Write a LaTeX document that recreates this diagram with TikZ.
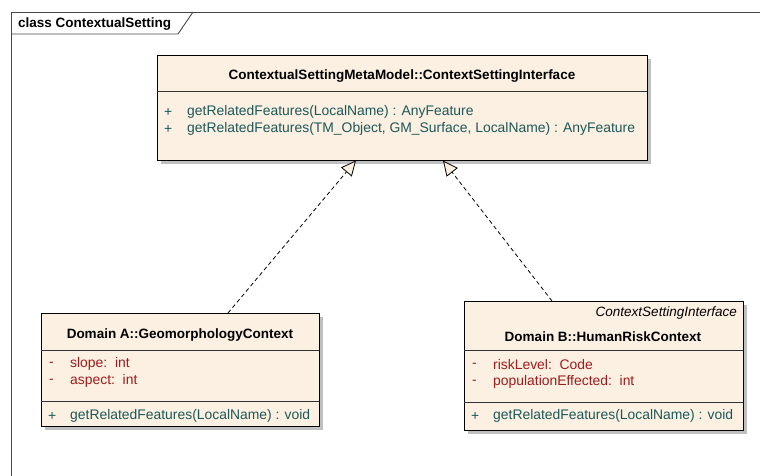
\documentclass[tikz,border=0pt]{standalone}
\usepackage{fontspec}
\setmainfont{Liberation Sans}
\usetikzlibrary{arrows.meta}
\definecolor{beige}{RGB}{251,240,225}
\definecolor{methodc}{RGB}{28,88,88}
\definecolor{attrc}{RGB}{158,28,28}
\definecolor{framec}{RGB}{70,70,70}
\definecolor{shadowc}{RGB}{192,192,192}
\tikzset{
  umlbox/.style={draw=black, fill=beige, line width=0.9pt, anchor=north west, inner sep=0pt},
  shadowbox/.style={fill=shadowc},
  divider/.style={draw=black!80, line width=0.8pt},
  titletxt/.style={font=\bfseries\fontsize{13.5}{15}\selectfont, inner sep=0pt},
  stereotxt/.style={font=\itshape\fontsize{13.5}{15}\selectfont, inner sep=0pt, anchor=east},
  methtxt/.style={font=\fontsize{13.9}{15}\selectfont, text=methodc, inner sep=0pt, anchor=west},
  attrtxt/.style={font=\fontsize{13.9}{15}\selectfont, text=attrc, inner sep=0pt, anchor=west},
  realize/.style={draw=black, line width=0.8pt, dash pattern=on 4pt off 3pt,
    -{Triangle[open, fill=beige, length=15pt, width=14pt, line width=0.8pt]}},
}
\begin{document}
\begin{tikzpicture}[x=1pt,y=-1pt]
\useasboundingbox (0,0) rectangle (760,476);
% frame
\draw[framec, line width=0.9pt] (11,476) -- (11,12) -- (760,12);
\draw[framec, line width=0.9pt] (11,34) -- (178,34) -- (193,12);
\node[font=\bfseries\fontsize{13.5}{15}\selectfont, anchor=west, inner sep=0pt] (frametitle) at (18,24) {class ContextualSetting};

% shadows
\fill[shadowbox] (161,59) rectangle (651,164);
\fill[shadowbox] (45,317) rectangle (323,430);
\fill[shadowbox] (468,305) rectangle (747,434);

% top interface box
\node[umlbox, minimum width=490pt, minimum height=105pt] (iface) at (157,55) {};
\draw[divider] (157,91) -- (647,91);
\node[titletxt] (ifacetitle) at (402,76) {ContextualSettingMetaModel::ContextSettingInterface};
\node[methtxt] (ip1) at (164,112) {+};
\node[methtxt] (im1) at (187,112) {getRelatedFeatures(LocalName) : AnyFeature};
\node[methtxt] (ip2) at (164,129) {+};
\node[methtxt] (im2) at (187,129) {getRelatedFeatures(TM\_Object, GM\_Surface, LocalName) : AnyFeature};

% left box
\node[umlbox, minimum width=278pt, minimum height=113pt] (geo) at (41,313) {};
\draw[divider] (41,350) -- (319,350);
\draw[divider] (41,401) -- (319,401);
\node[titletxt] (geotitle) at (180,335) {Domain A::GeomorphologyContext};
\node[attrtxt] (ga1d) at (49,364) {-};
\node[attrtxt] (ga1) at (70,364) {slope:\ \ int};
\node[attrtxt] (ga2d) at (49,381) {-};
\node[attrtxt] (ga2) at (70,381) {aspect:\ \ int};
\node[methtxt] (gmp) at (48,416) {+};
\node[methtxt] (gm) at (70,416) {getRelatedFeatures(LocalName) : void};

% right box
\node[umlbox, minimum width=279pt, minimum height=129pt] (hum) at (464,301) {};
\draw[divider] (464,350) -- (743,350);
\draw[divider] (464,402) -- (743,402);
\node[stereotxt] (humstereo) at (737,313) {ContextSettingInterface};
\node[titletxt] (humtitle) at (603,337) {Domain B::HumanRiskContext};
\node[attrtxt] (ha1d) at (472,365) {-};
\node[attrtxt] (ha1) at (493,365) {riskLevel:\ \ Code};
\node[attrtxt] (ha2d) at (472,382) {-};
\node[attrtxt] (ha2) at (493,382) {populationEffected:\ \ int};
\node[methtxt] (hmp) at (471,416) {+};
\node[methtxt] (hm) at (493,416) {getRelatedFeatures(LocalName) : void};

% realizations
\coordinate (geoTop) at (228,313);
\coordinate (ifaceL) at (356,160.5);
\coordinate (humTop) at (552,301);
\coordinate (ifaceR) at (443,160.5);
\draw[realize] (geoTop) -- (ifaceL);
\draw[realize] (humTop) -- (ifaceR);
\end{tikzpicture}
\end{document}
